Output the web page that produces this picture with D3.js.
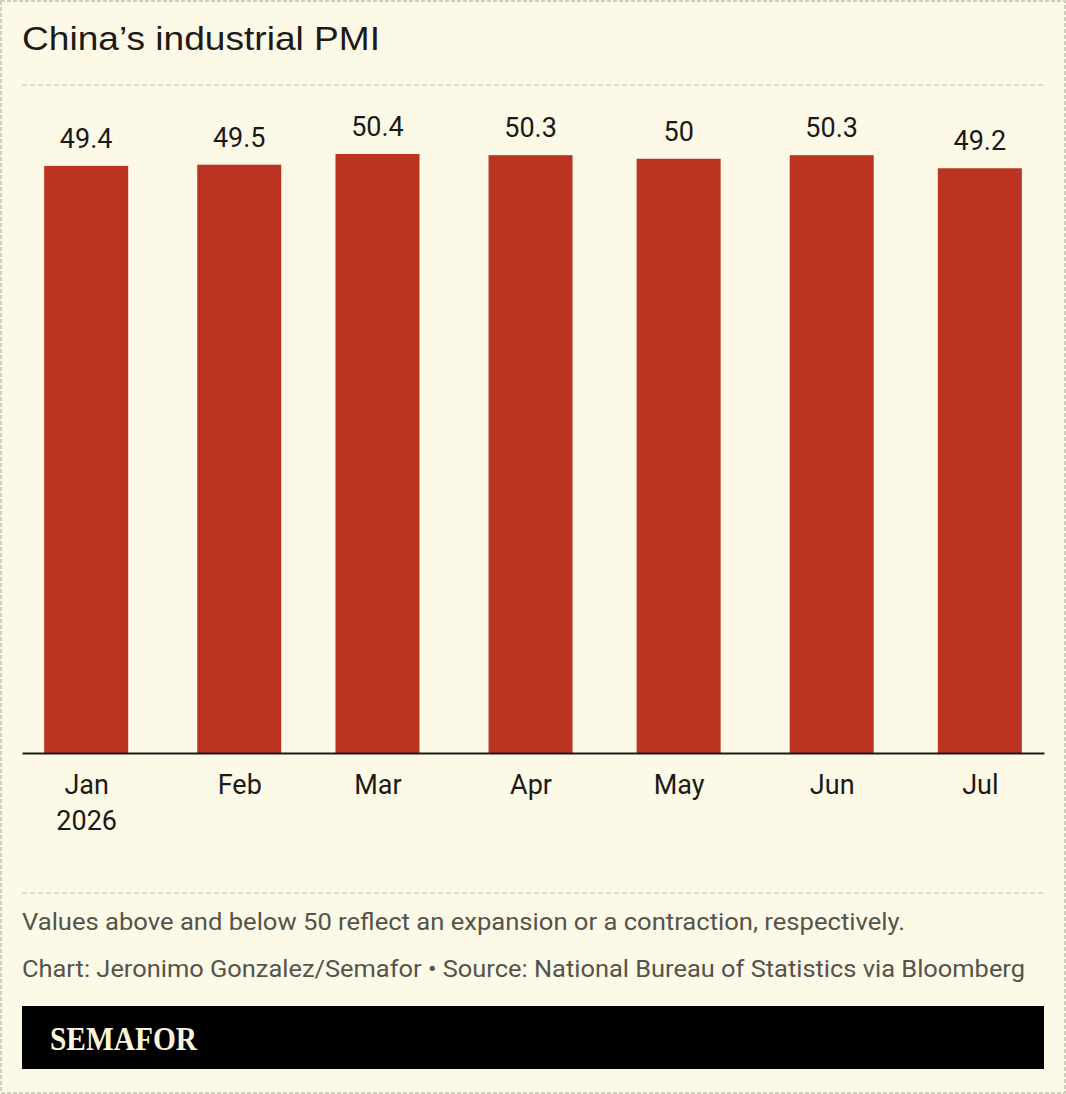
<!DOCTYPE html>
<html><head><meta charset="utf-8">
<script src="https://cdn.jsdelivr.net/npm/d3@7"></script>
<style>
html,body{margin:0;padding:0;background:#fcf9e6;}
svg{display:block;}
</style></head>
<body>
<script>
const dates = ["2026-01-01","2026-02-01","2026-03-01","2026-04-01","2026-05-01","2026-06-01","2026-07-01"];
const months = ["Jan","Feb","Mar","Apr","May","Jun","Jul"];
const monthSub = ["2026","","","","","",""];
const pmi = [49.4,49.5,50.4,50.3,50,50.3,49.2];
const valueLabels = ["49.4","49.5","50.4","50.3","50","50.3","49.2"];

const W=1066,H=1094;
const svg=d3.select("body").append("svg").attr("width",W).attr("height",H);
svg.append("rect").attr("x",0).attr("y",0).attr("width",W).attr("height",H).attr("fill","#fcf9e6");
svg.append("rect").attr("x",1).attr("y",1).attr("width",W-2).attr("height",H-2)
  .attr("fill","none").attr("stroke","#c2c0b4").attr("stroke-width",1.5).attr("stroke-dasharray","4,2");

const L=22,R=1044;
const sans="'Liberation Sans', Arial, sans-serif";
const plex="Roboto, 'Noto Sans', sans-serif";
svg.append("text").attr("x",L).attr("y",50).text("China’s industrial PMI")
  .attr("font-family",sans).attr("font-size",34).attr("fill","#1c1a17")
  .attr("textLength",358).attr("lengthAdjust","spacingAndGlyphs");
svg.append("line").attr("x1",L).attr("x2",R).attr("y1",85).attr("y2",85)
  .attr("stroke","#bdbbb0").attr("stroke-width",1.2).attr("stroke-dasharray","5,3");

const parse=d3.utcParse("%Y-%m-%d");
const dd=dates.map(parse);
const x=d3.scaleUtc().domain([parse("2025-12-19"),parse("2026-07-14")]).range([L,R]);
const y=d3.scaleLinear().domain([0,d3.max(pmi)]).range([753,154]);
const bw=84;

svg.selectAll("rect.bar").data(pmi).join("rect").attr("class","bar")
  .attr("x",(d,i)=>x(dd[i])-bw/2).attr("width",bw)
  .attr("y",d=>y(d)).attr("height",d=>y(0)-y(d)).attr("fill","#bb3421");

svg.selectAll("text.val").data(pmi).join("text").attr("class","val")
  .attr("x",(d,i)=>x(dd[i])).attr("y",d=>y(d)-18)
  .attr("text-anchor","middle").attr("font-family",plex).attr("font-size",27)
  .attr("fill","#1c1a17").text((d,i)=>valueLabels[i]);

const ax=svg.append("g").attr("transform",`translate(0,${y(0)})`)
  .call(d3.axisBottom(x).tickValues(dd).tickSize(0).tickPadding(0).tickFormat(()=>""));
ax.select(".domain").attr("stroke","#1c1a17").attr("stroke-width",2);
ax.selectAll(".tick text").remove();
ax.selectAll(".tick").each(function(d,i){
  const t=d3.select(this).append("text").attr("text-anchor","middle")
    .attr("font-family",plex).attr("font-size",27).attr("fill","#1c1a17");
  t.append("tspan").attr("x",0).attr("y",41).text(months[i]);
  if(monthSub[i]) t.append("tspan").attr("x",0).attr("y",77).text(monthSub[i]);
});

svg.append("line").attr("x1",L).attr("x2",R).attr("y1",893).attr("y2",893)
  .attr("stroke","#bdbbb0").attr("stroke-width",1.2).attr("stroke-dasharray","5,3");
svg.append("text").attr("x",L).attr("y",930).attr("font-family",plex).attr("font-size",24)
  .attr("fill","#55534c").attr("textLength",883).attr("lengthAdjust","spacingAndGlyphs")
  .text("Values above and below 50 reflect an expansion or a contraction, respectively.");
svg.append("text").attr("x",L).attr("y",977).attr("font-family",plex).attr("font-size",24)
  .attr("fill","#55534c").attr("textLength",1003).attr("lengthAdjust","spacingAndGlyphs")
  .text("Chart: Jeronimo Gonzalez/Semafor • Source: National Bureau of Statistics via Bloomberg");
svg.append("rect").attr("x",L).attr("y",1006).attr("width",R-L).attr("height",63).attr("fill","#000");
svg.append("text").attr("x",50).attr("y",1050).attr("font-family","'Liberation Serif', 'DejaVu Serif', serif")
  .attr("font-weight","bold").attr("font-size",34).attr("fill","#fbf5dc")
  .attr("textLength",147).attr("lengthAdjust","spacingAndGlyphs").text("SEMAFOR");
</script>
</body></html>
